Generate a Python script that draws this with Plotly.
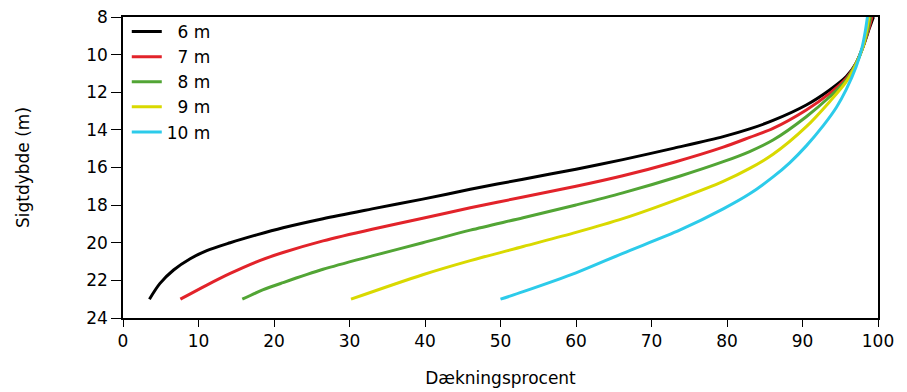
import plotly.graph_objects as go

# Coverage (%) against Secchi depth (m) for five reference depths
cov_6m = [3.5, 4.9, 6.7, 8.9, 11.1, 14.2, 17.7, 21.2, 26.5, 33.0, 39.7, 46.0, 53.0, 60.0, 66.2, 73.0, 79.5, 83.0, 86.1, 90.5, 93.6, 95.8, 97.1, 98.0, 98.9, 99.4]
depth_6m = [23.0, 22.16, 21.45, 20.85, 20.42, 20.0, 19.58, 19.2, 18.72, 18.2, 17.68, 17.16, 16.62, 16.09, 15.58, 14.97, 14.36, 13.95, 13.5, 12.68, 11.88, 11.17, 10.46, 9.6, 8.55, 8.0]

cov_7m = [7.6, 11.1, 14.2, 18.1, 21.2, 26.5, 33.0, 39.7, 46.0, 53.0, 60.0, 66.2, 73.0, 79.5, 83.0, 86.1, 90.5, 93.6, 95.8, 97.1, 98.0, 98.8, 99.2]
depth_7m = [23.0, 22.25, 21.63, 20.95, 20.52, 19.9, 19.28, 18.7, 18.14, 17.57, 17.0, 16.44, 15.72, 14.92, 14.4, 13.92, 12.94, 12.06, 11.26, 10.46, 9.6, 8.6, 8.0]

cov_8m = [15.8, 18.5, 21.2, 26.5, 33.0, 39.7, 46.0, 53.0, 60.0, 66.2, 73.8, 79.5, 83.0, 86.1, 90.5, 93.6, 95.8, 97.1, 98.0, 98.7, 99.0]
depth_8m = [23.0, 22.51, 22.12, 21.41, 20.7, 20.0, 19.33, 18.67, 17.99, 17.35, 16.45, 15.69, 15.15, 14.54, 13.3, 12.24, 11.35, 10.46, 9.6, 8.6, 8.0]

cov_9m = [30.2, 39.7, 46.0, 53.0, 60.0, 66.2, 73.8, 79.5, 83.0, 86.1, 90.5, 93.6, 95.8, 97.1, 98.0, 98.5, 98.8]
depth_9m = [23.0, 21.7, 20.95, 20.2, 19.45, 18.72, 17.64, 16.74, 16.05, 15.3, 13.83, 12.5, 11.44, 10.5, 9.6, 8.7, 8.0]

cov_10m = [50.0, 53.0, 60.0, 66.2, 73.8, 79.5, 83.0, 86.1, 88.3, 90.5, 92.8, 94.5, 95.8, 97.1, 97.9, 98.3, 98.6]
depth_10m = [23.0, 22.6, 21.6, 20.56, 19.32, 18.2, 17.4, 16.5, 15.75, 14.85, 13.75, 12.8, 11.85, 10.65, 9.6, 8.8, 8.0]

series_names = ["6 m", "7 m", "8 m", "9 m", "10 m"]
series_labels = ["&nbsp;&nbsp;6 m", "&nbsp;&nbsp;7 m", "&nbsp;&nbsp;8 m", "&nbsp;&nbsp;9 m", "10 m"]
series_cov = [cov_6m, cov_7m, cov_8m, cov_9m, cov_10m]
series_depth = [depth_6m, depth_7m, depth_8m, depth_9m, depth_10m]
colors = ["#000000", "#e2232a", "#52a535", "#d9d900", "#2ccbea"]

x_ticks = list(range(0, 101, 10))
y_ticks = list(range(8, 25, 2))

FONT = "DejaVu Sans, Liberation Sans, Arial, sans-serif"
FS = 17

fig = go.Figure()
for name, label, xs, ys, c in zip(series_names, series_labels, series_cov, series_depth, colors):
    fig.add_trace(go.Scatter(
        x=xs, y=ys, mode="lines", name=label,
        line=dict(color=c, width=3, shape="spline", smoothing=0.85),
        hovertemplate=name + ": %{x:.1f} %, %{y:.1f} m<extra></extra>",
    ))

axis_common = dict(
    showgrid=False, zeroline=False, showline=True, linecolor="black", linewidth=1.5,
    mirror=True, ticks="outside", tickcolor="black", tickwidth=1.2,
    tickfont=dict(family=FONT, size=FS, color="black"),
    automargin=False,
)

fig.update_layout(
    width=907, height=392,
    margin=dict(l=123, r=29, t=17, b=74),
    paper_bgcolor="white", plot_bgcolor="white",
    font=dict(family=FONT, size=FS, color="black"),
    showlegend=True,
    legend=dict(
        x=0.005, y=1.01, xanchor="left", yanchor="top",
        bgcolor="rgba(0,0,0,0)", borderwidth=0,
        font=dict(family=FONT, size=FS, color="black"),
        itemwidth=30, tracegroupgap=0,
    ),
    xaxis=dict(
        range=[0, 100], tickvals=x_ticks, ticklen=7,
        title=dict(text="Dækningsprocent", font=dict(family=FONT, size=FS), standoff=22),
        **axis_common,
    ),
    yaxis=dict(
        range=[24, 8], tickvals=y_ticks, ticklen=10,
        title=dict(text="Sigtdybde (m)", font=dict(family=FONT, size=FS), standoff=52),
        **axis_common,
    ),
)

fig.write_html("out.html")
